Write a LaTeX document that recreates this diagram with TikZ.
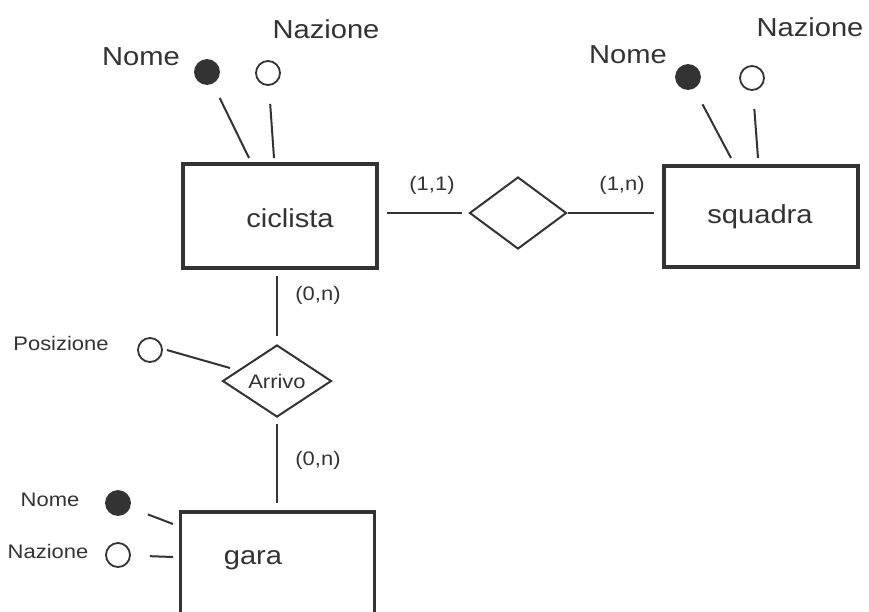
\documentclass[tikz,border=0pt]{standalone}
\usepackage{fontspec}
\setmainfont[FakeStretch=1.12]{Liberation Sans}
\usetikzlibrary{shapes.geometric}
\definecolor{ink}{HTML}{333333}
\begin{document}
\begin{tikzpicture}[x=1pt,y=-1pt,
  entity/.style={draw=ink, line width=3.2pt, minimum width=194pt, inner sep=0, rectangle},
  relship/.style={draw=ink, diamond, line width=2pt, inner sep=0},
  keyattr/.style={circle, draw=ink, fill=ink, line width=1.8pt, minimum size=24pt, inner sep=0},
  attr/.style={circle, draw=ink, fill=white, line width=1.8pt, minimum size=24pt, inner sep=0},
  big/.style={font=\fontsize{26}{31}\selectfont, text=ink, inner sep=0},
  small/.style={font=\fontsize{19.6}{23}\selectfont, text=ink, inner sep=0},
  link/.style={draw=ink, line width=2pt}]
\useasboundingbox (0,0) rectangle (869,611);
\fill[white] (0,0) rectangle (869,611);
\clip (0,0) rectangle (869,611);

% entities
\node[entity, minimum height=104pt] (ciclista) at (280,216) {};
\node[big] (ciclistat) at (290,218) {ciclista};
\node[entity, minimum height=101pt] (squadra) at (761,216.5) {};
\node[big] (squadrat) at (760,217) {squadra};
\node[entity, minimum height=200pt] (gara) at (277.5,612) {};
\node[big] (garat) at (253,560) {gara};

% relationships
\node[relship, minimum width=97pt, minimum height=72pt] (rel) at (518,213) {};
\node[relship, minimum width=109pt, minimum height=72pt, small] (arrivo) at (277,381) {Arrivo};

% cardinalities
\node[small] (c11) at (432,185) {(1,1)};
\node[small] (c1n) at (622,185) {(1,n)};
\node[small] (c0n1) at (318,295) {(0,n)};
\node[small] (c0n2) at (318,460) {(0,n)};

% connectors between entities and relationships
\draw[link] ([xshift=8pt]ciclista.east |- rel.west) -- ([xshift=-7pt]rel.west);
\draw[link] (rel.east) -- ([xshift=-8pt]squadra.west |- rel.east);
\draw[link] ([yshift=-6pt]arrivo.north |- ciclista.south) -- ([yshift=8pt]arrivo.north);
\draw[link] ([yshift=-6pt]arrivo.south) -- ([yshift=7pt]arrivo.south |- gara.north);

% ciclista attributes
\node[keyattr] (cnome) at (207,72) {};
\node[attr] (cnaz) at (268,73) {};
\node[big] (cnomet) at (141,57) {Nome};
\node[big] (cnazt) at (326,29) {Nazione};
\coordinate (cnomeend) at (249,158);
\coordinate (cnazend) at (274,158);
\draw[link, shorten <=16pt] (cnome) -- (cnomeend);
\draw[link, shorten <=18pt] (cnaz) -- (cnazend);

% squadra attributes
\node[keyattr] (snome) at (688,77) {};
\node[attr] (snaz) at (752,78) {};
\node[big] (snomet) at (628,55) {Nome};
\node[big] (snazt) at (810,27) {Nazione};
\coordinate (snomeend) at (731,158);
\coordinate (snazend) at (758,158);
\draw[link, shorten <=18pt] (snome) -- (snomeend);
\draw[link, shorten <=18pt] (snaz) -- (snazend);

% Arrivo attribute
\node[attr] (pos) at (150,350) {};
\node[small] (post) at (61,343) {Posizione};
\coordinate (posend) at (230,368);
\draw[link] ([xshift=4pt]pos.east) -- (posend);

% gara attributes
\node[keyattr] (gnome) at (118,503) {};
\node[attr] (gnaz) at (118,555) {};
\node[small] (gnomet) at (50,500) {Nome};
\node[small] (gnazt) at (48,551) {Nazione};
\coordinate (gnomeend) at (173,524);
\coordinate (gnazend) at (173,557);
\draw[link, shorten <=19pt] (gnome) -- (gnomeend);
\draw[link, shorten <=19pt] (gnaz) -- (gnazend);
\end{tikzpicture}
\end{document}
